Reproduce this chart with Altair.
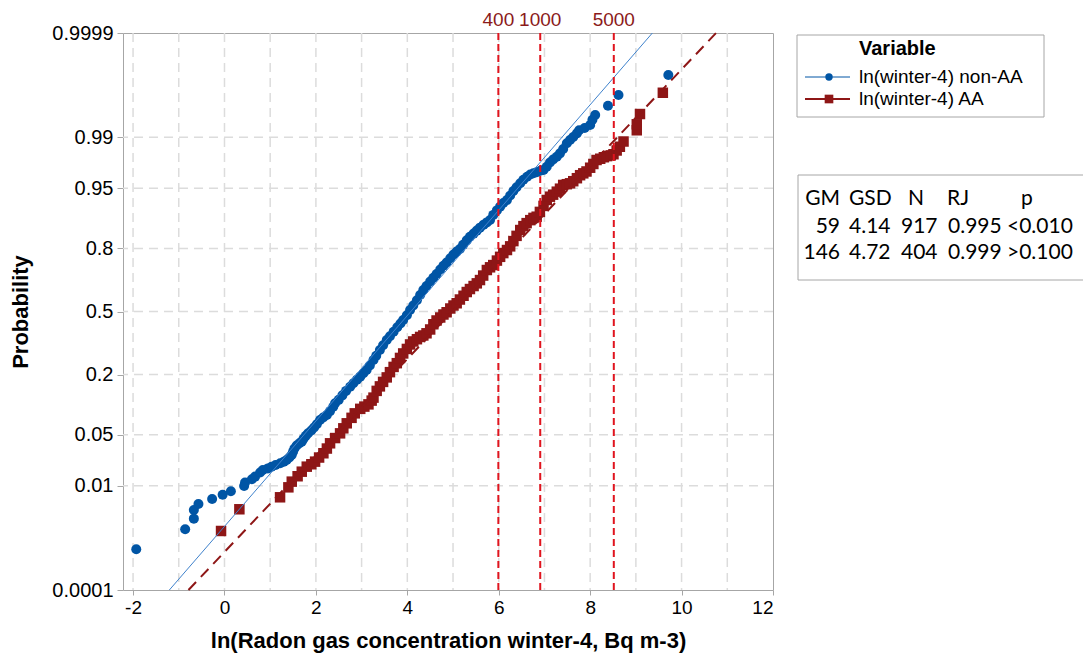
import math
from statistics import NormalDist
import pandas as pd
import altair as alt

# ---------------- data ----------------
series_names = ["ln(winter-4) non-AA", "ln(winter-4) AA"]

# non-AA: ln(radon) value and normal score (probability-plot position)
nonaa_x = [-1.93, -0.86, -0.67, -0.67, -0.57, -0.27, -0.04, 0.14, 0.43, 0.45,
           0.60, 0.67, 0.78, 0.84, 0.95, 1.03, 1.12, 1.22, 1.30, 1.36,
           1.42, 1.47, 1.50, 1.53, 1.58, 1.64, 1.69, 1.73, 1.78, 1.83,
           1.90, 1.96, 2.02, 2.09, 2.16, 2.24, 2.31, 2.38, 2.42, 2.50,
           2.58, 2.66, 2.75, 2.82, 2.90, 2.97, 3.04, 3.11, 3.18, 3.26,
           3.32, 3.40, 3.47, 3.55, 3.62, 3.70, 3.78, 3.85, 3.91, 3.99,
           4.06, 4.13, 4.21, 4.28, 4.35, 4.42, 4.50, 4.57, 4.64, 4.72,
           4.79, 4.86, 4.94, 5.01, 5.08, 5.15, 5.22, 5.30, 5.37, 5.45,
           5.52, 5.59, 5.67, 5.74, 5.81, 5.88, 5.96, 6.03, 6.10, 6.18,
           6.25, 6.32, 6.39, 6.47, 6.54, 6.62, 6.69, 6.76, 6.83, 6.91,
           6.98, 7.05, 7.12, 7.19, 7.27, 7.34, 7.41, 7.49, 7.56, 7.63,
           7.71, 7.76, 7.88, 8.00, 8.05, 8.11, 8.39, 8.62, 9.71]
nonaa_score = [-3.175, -2.908, -2.766, -2.650, -2.570, -2.503, -2.446, -2.401, -2.330, -2.285,
               -2.240, -2.205, -2.150, -2.116, -2.095, -2.072, -2.050, -2.027, -2.005, -1.983,
               -1.950, -1.916, -1.872, -1.830, -1.790, -1.760, -1.738, -1.700, -1.660, -1.627,
               -1.590, -1.550, -1.505, -1.449, -1.415, -1.382, -1.330, -1.271, -1.226, -1.180,
               -1.120, -1.060, -1.004, -0.959, -0.910, -0.870, -0.825, -0.781, -0.720, -0.648,
               -0.590, -0.514, -0.450, -0.381, -0.330, -0.270, -0.210, -0.160, -0.113, -0.050,
               0.020, 0.080, 0.150, 0.220, 0.287, 0.340, 0.400, 0.450, 0.500, 0.560,
               0.610, 0.655, 0.710, 0.760, 0.800, 0.835, 0.890, 0.950, 0.999, 1.040,
               1.080, 1.120, 1.160, 1.190, 1.222, 1.290, 1.350, 1.400, 1.450, 1.489,
               1.550, 1.610, 1.660, 1.712, 1.760, 1.800, 1.830, 1.845, 1.860, 1.880,
               1.889, 1.933, 1.990, 2.030, 2.067, 2.112, 2.170, 2.246, 2.290, 2.330,
               2.379, 2.420, 2.450, 2.490, 2.560, 2.624, 2.748, 2.891, 3.158]

# AA
aa_x = [-0.075, 0.326, 1.216, 1.398, 1.472, 1.60, 1.691, 1.80, 1.90, 1.982,
        2.07, 2.164, 2.24, 2.31, 2.42, 2.529, 2.60, 2.675, 2.78, 2.85,
        2.97, 3.06, 3.15, 3.22, 3.26, 3.33, 3.40, 3.47, 3.55, 3.62,
        3.70, 3.77, 3.84, 3.91, 3.99, 4.06, 4.13, 4.21, 4.28, 4.35,
        4.42, 4.50, 4.57, 4.64, 4.72, 4.79, 4.86, 4.94, 5.01, 5.08,
        5.15, 5.23, 5.30, 5.37, 5.45, 5.52, 5.59, 5.66, 5.74, 5.81,
        5.88, 5.96, 6.03, 6.10, 6.18, 6.25, 6.32, 6.39, 6.47, 6.54,
        6.61, 6.69, 6.76, 6.83, 6.90, 6.98, 7.05, 7.12, 7.19, 7.27,
        7.34, 7.41, 7.49, 7.56, 7.63, 7.71, 7.78, 7.85, 7.92, 8.00,
        8.07, 8.14, 8.22, 8.30, 8.37, 8.45, 8.51, 8.58, 8.65, 8.73,
        9.02, 9.02, 9.09, 9.59]
aa_score = [-2.931, -2.641, -2.481, -2.348, -2.272, -2.200, -2.139, -2.072, -2.040, -2.005,
            -1.950, -1.893, -1.830, -1.760, -1.690, -1.627, -1.560, -1.493, -1.420, -1.360,
            -1.300, -1.270, -1.240, -1.190, -1.150, -1.060, -1.000, -0.940, -0.880, -0.810,
            -0.740, -0.690, -0.620, -0.560, -0.500, -0.440, -0.400, -0.370, -0.340, -0.320,
            -0.291, -0.240, -0.170, -0.120, -0.080, -0.040, -0.010, 0.040, 0.080, 0.110,
            0.160, 0.210, 0.260, 0.300, 0.340, 0.376, 0.420, 0.480, 0.554, 0.590,
            0.620, 0.680, 0.730, 0.780, 0.821, 0.870, 0.940, 1.010, 1.088, 1.140,
            1.180, 1.220, 1.250, 1.266, 1.330, 1.410, 1.489, 1.533, 1.560, 1.600,
            1.640, 1.690, 1.700, 1.712, 1.740, 1.780, 1.820, 1.845, 1.870, 1.920,
            1.970, 2.023, 2.040, 2.060, 2.075, 2.085, 2.100, 2.150, 2.200, 2.270,
            2.420, 2.500, 2.637, 2.921]

# fitted lognormal parameters and goodness-of-fit table
gm = [59, 146]
gsd = [4.14, 4.72]
n_obs = [917, 404]
rj = ["0.995", "0.999"]
p_text = ["<0.010", ">0.100"]

prob_ticks = [0.0001, 0.01, 0.05, 0.2, 0.5, 0.8, 0.95, 0.99, 0.9999]
prob_labels = ["0.0001", "0.01", "0.05", "0.2", "0.5", "0.8", "0.95", "0.99", "0.9999"]
x_ticks = [-2, 0, 2, 4, 6, 8, 10, 12]
x_grid = list(range(-2, 12))
ref_levels = [400, 1000, 5000]

# ---------------- styling ----------------
BLUE = "#0055A5"
RED = "#8E1616"
FIT_BLUE = "#3F82CC"
REF_RED = "#E0141E"
LABEL_RED = "#8B1A1A"
GRID = "#DCDCDC"
FRAME = "#A6A6A6"
FONT = "Liberation Sans"
TFONT = "Lato"

W, H = 650, 557
nd = NormalDist()
z_ticks = [nd.inv_cdf(p) for p in prob_ticks]
zmin, zmax = z_ticks[0], z_ticks[-1]

xs = alt.Scale(domain=[-2.22, 12.0], nice=False, zero=False)
ys = alt.Scale(domain=[zmin, zmax], nice=False, zero=False)

label_expr = ""
for z, lab in zip(z_ticks, prob_labels):
    label_expr += f"abs(datum.value - ({z:.5f})) < 0.001 ? '{lab}' : "
label_expr += "''"

xaxis = alt.Axis(values=x_ticks, grid=False, domain=False, tickSize=5, tickColor=FRAME,
                 labelFont=FONT, labelFontSize=19, labelColor="black", labelPadding=3,
                 labelExpr="'' + datum.value",
                 title="ln(Radon gas concentration winter-4, Bq m-3)",
                 titleFont=FONT, titleFontSize=22, titleFontWeight="bold", titleColor="black",
                 titlePadding=13)
yaxis = alt.Axis(values=z_ticks, grid=False, domain=False, tickSize=6, tickColor=FRAME,
                 labelFont=FONT, labelFontSize=20, labelColor="black", labelPadding=4,
                 labelExpr=label_expr, title="Probability",
                 titleFont=FONT, titleFontSize=22, titleFontWeight="bold", titleColor="black",
                 titlePadding=19)


def X(field):
    return alt.X(field, type="quantitative", scale=xs, axis=xaxis)


def Y(field):
    return alt.Y(field, type="quantitative", scale=ys, axis=yaxis)


# grid
gx = alt.Chart(pd.DataFrame({"x": x_grid})).mark_rule(
    color=GRID, strokeWidth=1.5, strokeDash=[9, 6]).encode(x=X("x"))
gy = alt.Chart(pd.DataFrame({"z": z_ticks[1:-1]})).mark_rule(
    color=GRID, strokeWidth=1.5, strokeDash=[9, 6]).encode(y=Y("z"))

# points
df_b = pd.DataFrame({"x": nonaa_x, "z": nonaa_score})
df_r = pd.DataFrame({"x": aa_x, "z": aa_score})
pts_b = alt.Chart(df_b).mark_point(shape="circle", filled=True, size=100, color=BLUE,
                                   opacity=1).encode(x=X("x"), y=Y("z"))
pts_r = alt.Chart(df_r).mark_point(shape="square", filled=True, size=110, color=RED,
                                   opacity=1).encode(x=X("x"), y=Y("z"))

# fitted lines (from GM / GSD)
fit_rows = []
for i, name in enumerate(series_names):
    for z in (zmin, zmax):
        fit_rows.append({"s": name, "x": math.log(gm[i]) + z * math.log(gsd[i]), "z": z})
fit = pd.DataFrame(fit_rows)
fit_b = alt.Chart(fit[fit.s == series_names[0]]).mark_line(
    color=FIT_BLUE, strokeWidth=1).encode(x=X("x"), y=Y("z"))
fit_r = alt.Chart(fit[fit.s == series_names[1]]).mark_line(
    color=RED, strokeWidth=2, strokeDash=[11, 7]).encode(x=X("x"), y=Y("z"))

# reference lines
ref = pd.DataFrame({"x": [math.log(v) for v in ref_levels], "lab": [str(v) for v in ref_levels]})
ref_lines = alt.Chart(ref).mark_rule(color=REF_RED, strokeWidth=2, strokeDash=[7, 4]).encode(x=X("x"))
ref_text = alt.Chart(ref).mark_text(font=FONT, fontSize=19, color=LABEL_RED, baseline="alphabetic",
                                    align="center").encode(x=X("x"), y=alt.value(-7), text="lab:N")

layers = [gx, gy, pts_b, pts_r, fit_b, fit_r, ref_lines, ref_text]

# page -> view coordinates (plot origin at page 123,33)
OX, OY = 123, 33


def box(x1, y1, x2, y2):
    return alt.Chart(pd.DataFrame({"a": [0]})).mark_rect(
        fill="white", stroke=FRAME, strokeWidth=1).encode(
        x=alt.value(x1 - OX), x2=alt.value(x2 - OX), y=alt.value(y1 - OY), y2=alt.value(y2 - OY))


def label(txt, px, py, align="left", font=FONT, size=18, weight="normal"):
    return alt.Chart(pd.DataFrame({"t": [txt]})).mark_text(
        font=font, fontSize=size, fontWeight=weight, align=align, baseline="middle",
        color="black").encode(x=alt.value(px - OX), y=alt.value(py - OY), text="t:N")


# legend
layers.append(box(797, 35, 1044, 117))
layers.append(label("Variable", 859, 49, weight="bold", size=20))
leg_y = [77, 99]
leg_col = [BLUE, RED]
leg_shape = ["circle", "square"]
leg_size = [55, 75]
leg_stroke = [1, 2]
for i, name in enumerate(series_names):
    y = leg_y[i]
    layers.append(alt.Chart(pd.DataFrame({"a": [0]})).mark_rule(
        color=leg_col[i], strokeWidth=leg_stroke[i]).encode(
        x=alt.value(805 - OX), x2=alt.value(850 - OX), y=alt.value(y - OY)))
    layers.append(alt.Chart(pd.DataFrame({"a": [0]})).mark_point(
        shape=leg_shape[i], filled=True, size=leg_size[i], color=leg_col[i], opacity=1).encode(
        x=alt.value(829 - OX), y=alt.value(y - OY)))
    layers.append(label(name, 859, y, size=19))

# statistics table
layers.append(box(798, 175, 1084, 280))
header = ["GM", "GSD", "N", "RJ", "p"]
hdr_x = [840, 849, 908, 947, 1021]
hdr_al = ["right", "left", "left", "left", "left"]
for t, px, al in zip(header, hdr_x, hdr_al):
    layers.append(label(t, px, 199, align=al, font=TFONT, size=21))
row_y = [227, 253]
col_x = [840, 849, 901, 948, 1007]
col_al = ["right", "left", "left", "left", "left"]
for i in range(2):
    cells = [str(gm[i]), f"{gsd[i]:.2f}", str(n_obs[i]), rj[i], p_text[i]]
    for t, px, al in zip(cells, col_x, col_al):
        layers.append(label(t, px, row_y[i], align=al, font=TFONT, size=21))

chart = alt.layer(*layers).properties(
    width=W, height=H,
    autosize=alt.AutoSizeParams(type="none"),
    padding={"left": 115, "top": 25, "right": 310, "bottom": 64},
    background="white",
).configure_view(stroke=FRAME, strokeWidth=1)

chart.save("out.html", embed_options={"renderer": "svg", "actions": False})
